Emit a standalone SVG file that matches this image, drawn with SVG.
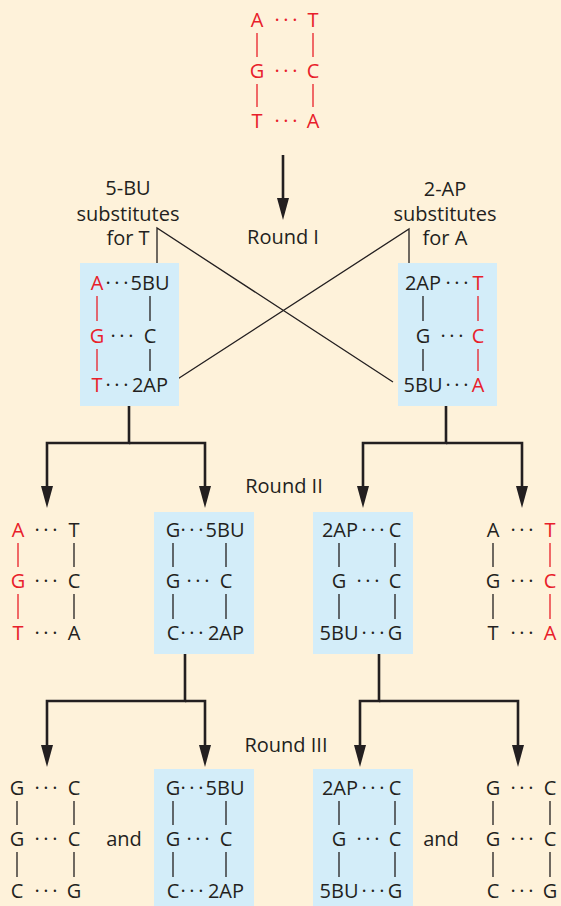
<svg xmlns="http://www.w3.org/2000/svg" width="561" height="906" viewBox="0 0 561 906">
<style>
.t{font-family:"Open Sans","Noto Sans","Liberation Sans",sans-serif;font-size:20px;fill:#231F20;text-anchor:middle}
.r{fill:#E8202A}
.d{letter-spacing:3.6px}
.ln{stroke:#231F20;stroke-width:1.3;fill:none}
.lr{stroke:#E8202A}
.box{fill:#D3EDF9}
.arr{stroke:#231F20;stroke-width:2.6;fill:none;marker-end:url(#ah)}
.thin{stroke:#231F20;stroke-width:1.3;fill:none}
</style>
<defs>
<marker id="ah" viewBox="0 0 22 12" refX="10" refY="6" markerWidth="22" markerHeight="12" markerUnits="userSpaceOnUse" orient="auto">
<path d="M0,0 L22,6 L0,12 Z" fill="#231F20"/>
</marker>
</defs>
<rect width="561" height="906" fill="#FEF2DA"/>

<g id="connectors">
<path class="arr" d="M283,155 V208"/>
<path class="thin" d="M157,268 V228 L393,382"/>
<path class="thin" d="M409,269 V229 L173,382"/>
<path class="arr" d="M129,406 V443 H47 V496"/>
<path class="arr" d="M129,443 H205 V496"/>
<path class="arr" d="M446,406 V443 H363 V496"/>
<path class="arr" d="M446,443 H522 V496"/>
<path class="arr" d="M185,654 V701 H47 V755"/>
<path class="arr" d="M185,701 H205 V755"/>
<path class="arr" d="M379,654 V701 H360 V755"/>
<path class="arr" d="M379,701 H518 V755"/>
</g>

<g id="labels">
<text class="t" x="128" y="195">5-BU</text>
<text class="t" x="128" y="221">substitutes</text>
<text class="t" x="128" y="245">for T</text>
<text class="t" x="445" y="196">2-AP</text>
<text class="t" x="445" y="221">substitutes</text>
<text class="t" x="445" y="245">for A</text>
<text class="t" x="283" y="244">Round I</text>
<text class="t" x="284" y="493">Round II</text>
<text class="t" x="286" y="752">Round III</text>
<text class="t" x="124" y="846">and</text>
<text class="t" x="441" y="846">and</text>
</g>

<g id="n-original">
<text class="t r" x="257" y="27">A</text><text class="t r d" x="287.8" y="27">···</text><text class="t r" x="313" y="27">T</text>
<text class="t r" x="257" y="78">G</text><text class="t r d" x="287.8" y="78">···</text><text class="t r" x="313" y="78">C</text>
<text class="t r" x="257" y="128">T</text><text class="t r d" x="287.8" y="128">···</text><text class="t r" x="313" y="128">A</text>
<path class="ln lr" d="M257,33 V57 M257,84 V107 M313,33 V57 M313,84 V107"/>
</g>

<g id="n-r1-left">
<rect class="box" x="80" y="263" width="99" height="143"/>
<text class="t r" x="97" y="290">A</text><text class="t d" x="118.8" y="290">···</text><text class="t" x="150" y="290">5BU</text>
<text class="t r" x="97" y="343">G</text><text class="t d" x="123.8" y="343">···</text><text class="t" x="150" y="343">C</text>
<text class="t r" x="97" y="392">T</text><text class="t d" x="118.8" y="392">···</text><text class="t" x="150" y="392">2AP</text>
<path class="ln lr" d="M97,296 V321 M97,349 V371"/>
<path class="ln" d="M150,296 V321 M150,349 V371"/>
</g>

<g id="n-r1-right">
<rect class="box" x="398" y="263" width="99" height="143"/>
<text class="t" x="423" y="290">2AP</text><text class="t d" x="458.8" y="290">···</text><text class="t r" x="478" y="290">T</text>
<text class="t" x="423" y="343">G</text><text class="t d" x="453.8" y="343">···</text><text class="t r" x="478" y="343">C</text>
<text class="t" x="423" y="392">5BU</text><text class="t d" x="458.8" y="392">···</text><text class="t r" x="478" y="392">A</text>
<path class="ln" d="M423,296 V321 M423,349 V371"/>
<path class="ln lr" d="M478,296 V321 M478,349 V371"/>
</g>

<g id="n-r2-a">
<text class="t r" x="18" y="537">A</text><text class="t d" x="47.8" y="537">···</text><text class="t" x="74" y="537">T</text>
<text class="t r" x="18" y="588">G</text><text class="t d" x="47.8" y="588">···</text><text class="t" x="74" y="588">C</text>
<text class="t r" x="18" y="640">T</text><text class="t d" x="47.8" y="640">···</text><text class="t" x="74" y="640">A</text>
<path class="ln lr" d="M18,543 V567 M18,594 V619"/>
<path class="ln" d="M74,543 V567 M74,594 V619"/>
</g>

<g id="n-r2-b">
<rect class="box" x="154" y="512" width="100" height="142"/>
<text class="t" x="173" y="537">G</text><text class="t d" x="193.8" y="537">···</text><text class="t" x="225" y="537">5BU</text>
<text class="t" x="173" y="588">G</text><text class="t d" x="199.8" y="588">···</text><text class="t" x="226" y="588">C</text>
<text class="t" x="173" y="640">C</text><text class="t d" x="193.8" y="640">···</text><text class="t" x="226" y="640">2AP</text>
<path class="ln" d="M173,543 V567 M173,594 V619 M226,543 V567 M226,594 V619"/>
</g>

<g id="n-r2-c">
<rect class="box" x="313" y="512" width="100" height="142"/>
<text class="t" x="340" y="537">2AP</text><text class="t d" x="374.8" y="537">···</text><text class="t" x="395" y="537">C</text>
<text class="t" x="339" y="588">G</text><text class="t d" x="369.8" y="588">···</text><text class="t" x="395" y="588">C</text>
<text class="t" x="339" y="640">5BU</text><text class="t d" x="374.8" y="640">···</text><text class="t" x="395" y="640">G</text>
<path class="ln" d="M339,543 V567 M339,594 V619 M395,543 V567 M395,594 V619"/>
</g>

<g id="n-r2-d">
<text class="t" x="493" y="537">A</text><text class="t d" x="523.8" y="537">···</text><text class="t r" x="550" y="537">T</text>
<text class="t" x="493" y="588">G</text><text class="t d" x="523.8" y="588">···</text><text class="t r" x="550" y="588">C</text>
<text class="t" x="493" y="640">T</text><text class="t d" x="523.8" y="640">···</text><text class="t r" x="550" y="640">A</text>
<path class="ln" d="M493,543 V567 M493,594 V619"/>
<path class="ln lr" d="M550,543 V567 M550,594 V619"/>
</g>

<g id="n-r3-a">
<text class="t" x="17" y="795">G</text><text class="t d" x="47.8" y="795">···</text><text class="t" x="74" y="795">C</text>
<text class="t" x="17" y="846">G</text><text class="t d" x="47.8" y="846">···</text><text class="t" x="74" y="846">C</text>
<text class="t" x="17" y="898">C</text><text class="t d" x="47.8" y="898">···</text><text class="t" x="74" y="898">G</text>
<path class="ln" d="M17,801 V825 M17,852 V877 M74,801 V825 M74,852 V877"/>
</g>

<g id="n-r3-b">
<rect class="box" x="154" y="769" width="100" height="137"/>
<text class="t" x="173" y="795">G</text><text class="t d" x="193.8" y="795">···</text><text class="t" x="225" y="795">5BU</text>
<text class="t" x="173" y="846">G</text><text class="t d" x="199.8" y="846">···</text><text class="t" x="226" y="846">C</text>
<text class="t" x="173" y="898">C</text><text class="t d" x="193.8" y="898">···</text><text class="t" x="226" y="898">2AP</text>
<path class="ln" d="M173,801 V825 M173,852 V877 M226,801 V825 M226,852 V877"/>
</g>

<g id="n-r3-c">
<rect class="box" x="313" y="769" width="100" height="137"/>
<text class="t" x="340" y="795">2AP</text><text class="t d" x="374.8" y="795">···</text><text class="t" x="395" y="795">C</text>
<text class="t" x="339" y="846">G</text><text class="t d" x="369.8" y="846">···</text><text class="t" x="395" y="846">C</text>
<text class="t" x="339" y="898">5BU</text><text class="t d" x="374.8" y="898">···</text><text class="t" x="395" y="898">G</text>
<path class="ln" d="M339,801 V825 M339,852 V877 M395,801 V825 M395,852 V877"/>
</g>

<g id="n-r3-d">
<text class="t" x="493" y="795">G</text><text class="t d" x="523.8" y="795">···</text><text class="t" x="550" y="795">C</text>
<text class="t" x="493" y="846">G</text><text class="t d" x="523.8" y="846">···</text><text class="t" x="550" y="846">C</text>
<text class="t" x="493" y="898">C</text><text class="t d" x="523.8" y="898">···</text><text class="t" x="550" y="898">G</text>
<path class="ln" d="M493,801 V825 M493,852 V877 M550,801 V825 M550,852 V877"/>
</g>
</svg>
